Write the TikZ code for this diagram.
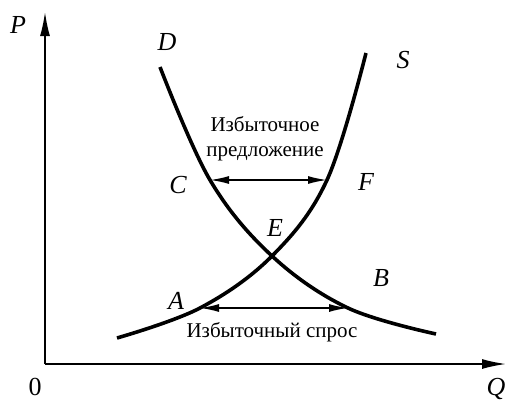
\documentclass[tikz,border=0pt]{standalone}
\usepackage{fontspec}
\setmainfont{Liberation Serif}
\usetikzlibrary{arrows.meta}

\begin{document}
\begin{tikzpicture}[
    x=1pt, y=-1pt,
    axis/.style={line width=1.6pt, -{Latex[length=24pt, width=10pt]}},
    curve/.style={line width=3.6pt, line cap=butt},
    arrow/.style={line width=1.6pt, {Latex[length=19pt, width=8pt]}-{Latex[length=19pt, width=8pt]}},
    lbl/.style={font=\fontsize{26}{28}\selectfont\itshape, inner sep=0pt},
    txt/.style={font=\fontsize{21}{25}\selectfont, align=center, inner sep=0pt}
]
    \useasboundingbox (0,0) rectangle (506,402);

    % axes
    \coordinate (orig) at (45,364);
    \coordinate (ptop) at (45,12);
    \coordinate (qend) at (506,364);
    \draw[axis] (orig) -- (ptop);
    \draw[axis] (orig) -- (qend);

    % points on the curves
    \coordinate (dstart) at (160,67);
    \coordinate (cpt) at (210,180);
    \coordinate (ept) at (272,256);
    \coordinate (bpt) at (348,308);
    \coordinate (dend) at (436,334);
    \coordinate (sstart) at (117,338);
    \coordinate (apt) at (200,308);
    \coordinate (fpt) at (327,180);
    \coordinate (send) at (366,53);

    % demand and supply
    \draw[curve] plot[smooth, tension=0.6] coordinates {(dstart) (cpt) (ept) (bpt) (dend)};
    \draw[curve] plot[smooth, tension=0.6] coordinates {(sstart) (apt) (ept) (fpt) (send)};

    % gaps
    \draw[arrow] (cpt) -- (fpt);
    \draw[arrow] (apt) -- (bpt);

    % labels
    \node[lbl] (lp) at (18,25) {P};
    \node[lbl] (lq) at (496,389) {Q};
    \node[lbl, font=\fontsize{26}{28}\selectfont] (lo) at (35,387) {0};
    \node[lbl] (ld) at (167,42) {D};
    \node[lbl] (ls) at (403,60) {S};
    \node[lbl] (lc) at (178,185) {C};
    \node[lbl] (lf) at (366,182) {F};
    \node[lbl] (le) at (275,228) {E};
    \node[lbl] (lb) at (381,278) {B};
    \node[lbl] (la) at (176,301) {A};
    \node[txt] (exsup) at (265,139) {Избыточное\\предложение};
    \node[txt] (exdem) at (272,332) {Избыточный спрос};
\end{tikzpicture}
\end{document}
